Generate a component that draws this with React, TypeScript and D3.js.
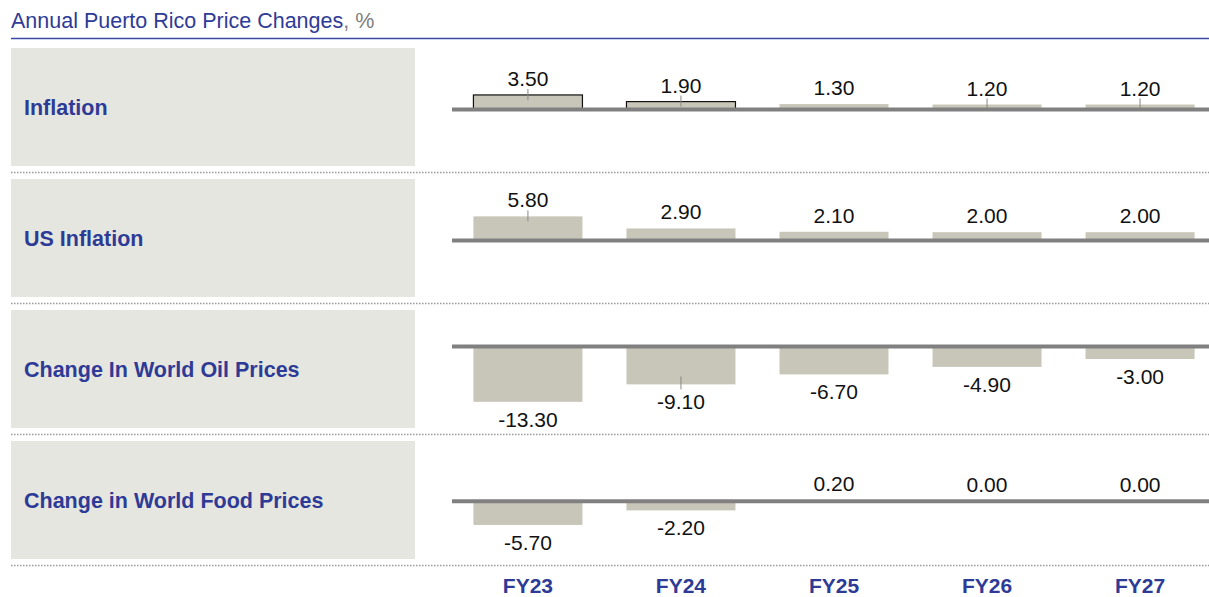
import React from "react";
import * as d3 from "d3";

const years = ["FY23", "FY24", "FY25", "FY26", "FY27"];
const rowNames = ["Inflation", "US Inflation", "Change In World Oil Prices", "Change in World Food Prices"];
const inflation = [3.5, 1.9, 1.3, 1.2, 1.2];
const usInflation = [5.8, 2.9, 2.1, 2.0, 2.0];
const oilPrices = [-13.3, -9.1, -6.7, -4.9, -3.0];
const foodPrices = [-5.7, -2.2, 0.2, 0.0, 0.0];
const seriesList = [inflation, usInflation, oilPrices, foodPrices];
// value domain per row [min, max] (where zero line sits within the row)
const rowDomains: [number, number][] = [
  [-13.6, 14.8],
  [-13.6, 14.8],
  [-19.6, 8.8],
  [-13.9, 14.5],
];
const outlined = [[true, true, false, false, false], [false, false, false, false, false], [false, false, false, false, false], [false, false, false, false, false]];
const leaders = [[true, true, false, true, true], [true, false, false, false, false], [false, true, false, false, false], [false, false, false, false, false]];

const W = 1209;
const H = 597;
const rowTop0 = 48;
const rowStep = 131;
const rowH = 118;
const BLUE = "#2e3b96";
const FONT = "'Liberation Sans', Arial, sans-serif";

export default function App() {
  const x = d3.scaleBand<string>().domain(years).range([452, 1216]).paddingInner(0.2876).paddingOuter(0.14);
  return (
    <svg width={W} height={H} style={{ position: "absolute", left: 0, top: 0, background: "#fff" }} fontFamily={FONT}>
      <text x={11} y={28} fontSize={21.5} fill={BLUE}>
        Annual Puerto Rico Price Changes<tspan fill="#808080">, %</tspan>
      </text>
      <line x1={11} x2={1209} y1={38.5} y2={38.5} stroke="#3a49a8" strokeWidth={1.6} />
      {seriesList.map((vals, r) => {
        const top = rowTop0 + r * rowStep;
        const y = d3.scaleLinear().domain(rowDomains[r]).range([top + rowH, top]);
        const y0 = y(0);
        return (
          <g key={r}>
            <rect x={11} y={top} width={404} height={rowH} fill="#e6e6e0" />
            <text x={24} y={top + 67} fontSize={21.5} fontWeight="bold" fill={BLUE}>{rowNames[r]}</text>
            {vals.map((v, i) => {
              const bx = x(years[i])!;
              const bw = x.bandwidth();
              const yt = Math.min(y(v), y0);
              const h = Math.abs(y(v) - y0);
              const cx = bx + bw / 2;
              const ly = v >= 0 ? y(v) - 9 : y(v) + 25;
              return (
                <g key={i}>
                  <rect x={bx} y={yt} width={bw} height={Math.max(h, 0)} fill="#c8c6b9"
                    stroke={outlined[r][i] ? "#111" : "none"} strokeWidth={1.2} />
                  {leaders[r][i] && (
                    v >= 0 ? <line x1={cx} x2={cx} y1={ly + 3} y2={Math.min(ly + 14, y0 - 1)} stroke="#888" strokeWidth={1} />
                      : <line x1={cx} x2={cx} y1={y(v) - 8} y2={y(v) + 5} stroke="#888" strokeWidth={1} />
                  )}
                  <text x={cx} y={ly} fontSize={21} textAnchor="middle" fill="#111">{v.toFixed(2)}</text>
                </g>
              );
            })}
            <line x1={452} x2={1209} y1={y0} y2={y0} stroke="#808080" strokeWidth={4} />
            <line x1={11} x2={1209} y1={top + rowH + 6.5} y2={top + rowH + 6.5} stroke="#9a9a9a" strokeWidth={1.5} strokeDasharray="1.5,1.5" />
          </g>
        );
      })}
      {years.map((yr) => (
        <text key={yr} x={x(yr)! + x.bandwidth() / 2} y={593} fontSize={21} fontWeight="bold" textAnchor="middle" fill={BLUE}>{yr}</text>
      ))}
    </svg>
  );
}
